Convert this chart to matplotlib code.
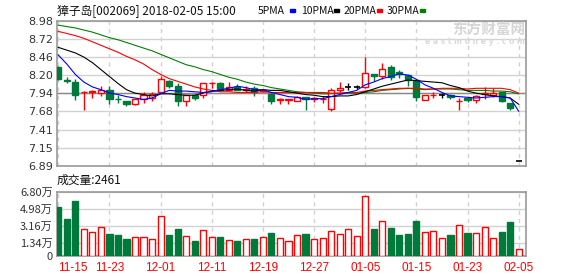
import numpy as np
import matplotlib.pyplot as plt
from matplotlib.patches import Rectangle

# daily candles, 2017-11-15 .. 2018-02-05
opens = [8.32, 8.13, 8.10, 7.95, 7.96, 7.94, 7.99, 7.86, 7.82, 7.78, 7.86, 7.87, 7.96, 8.12, 8.05,
         7.82, 7.92, 7.91, 8.08, 8.09, 7.99, 8.03, 7.98, 8.02, 7.97, 7.93, 7.84, 7.84, 7.83, 7.88,
         7.86, 7.85, 7.71, 7.98, 8.03, 8.03, 8.03, 8.21, 8.19, 8.31, 8.25, 8.20, 8.13, 7.84, 7.91,
         7.92, 7.92, 7.82, 7.87, 7.84, 7.93, 7.92, 7.96, 7.80, 6.96]
closes = [8.14, 8.12, 7.92, 7.96, 7.97, 7.99, 7.85, 7.85, 7.78, 7.86, 7.91, 7.93, 8.15, 8.04, 7.82,
          7.91, 7.87, 8.09, 8.09, 7.99, 8.03, 7.99, 8.00, 7.95, 7.99, 7.83, 7.85, 7.85, 7.89, 7.85,
          7.87, 7.86, 7.98, 8.02, 8.03, 8.03, 8.23, 8.19, 8.29, 8.18, 8.21, 8.13, 7.88, 7.92, 7.92,
          7.92, 7.88, 7.83, 7.84, 7.90, 7.94, 7.94, 7.82, 7.73, 6.96]
highs = [8.33, 8.18, 8.14, 7.97, 7.98, 8.05, 8.04, 7.91, 7.82, 7.86, 7.95, 7.96, 8.19, 8.13, 8.09,
         7.91, 7.93, 8.09, 8.10, 8.10, 8.10, 8.07, 8.04, 8.04, 8.00, 7.95, 7.87, 7.86, 7.90, 7.89,
         7.89, 7.90, 8.01, 8.10, 8.08, 8.06, 8.46, 8.21, 8.37, 8.35, 8.28, 8.21, 8.14, 7.92, 7.95,
         7.94, 7.93, 7.87, 7.88, 7.92, 8.03, 8.01, 7.96, 7.80, 6.96]
lows = [8.13, 8.08, 7.84, 7.70, 7.87, 7.90, 7.79, 7.80, 7.75, 7.77, 7.80, 7.82, 7.95, 8.01, 7.76,
        7.76, 7.84, 7.87, 8.01, 7.97, 7.97, 7.98, 7.96, 7.90, 7.96, 7.78, 7.78, 7.79, 7.82, 7.70,
        7.81, 7.80, 7.68, 7.95, 7.99, 8.00, 8.02, 8.11, 8.14, 8.13, 8.16, 8.05, 7.83, 7.84, 7.87,
        7.87, 7.86, 7.70, 7.81, 7.80, 7.86, 7.89, 7.81, 7.70, 6.96]

ma5 = [8.49, 8.36, 8.21, 8.10, 8.03, 7.99, 7.94, 7.92, 7.89, 7.87, 7.85, 7.87, 7.93, 7.98, 7.97,
       7.97, 7.96, 7.95, 7.96, 7.99, 8.01, 8.04, 8.02, 7.99, 7.99, 7.95, 7.92, 7.89, 7.88, 7.85,
       7.86, 7.86, 7.89, 7.92, 7.95, 7.98, 8.06, 8.10, 8.15, 8.18, 8.22, 8.20, 8.14, 8.06, 8.01,
       7.95, 7.90, 7.89, 7.88, 7.87, 7.88, 7.89, 7.89, 7.87, 7.68]
ma10 = [8.60, 8.56, 8.52, 8.46, 8.38, 8.28, 8.18, 8.08, 7.99, 7.94, 7.92, 7.90, 7.93, 7.93, 7.92,
        7.91, 7.91, 7.94, 7.97, 7.98, 7.99, 8.00, 7.98, 7.97, 7.99, 7.98, 7.98, 7.96, 7.94, 7.92,
        7.91, 7.89, 7.89, 7.90, 7.90, 7.92, 7.96, 8.00, 8.04, 8.07, 8.10, 8.13, 8.12, 8.11, 8.10,
        8.09, 8.05, 8.02, 7.97, 7.94, 7.92, 7.90, 7.89, 7.87, 7.78]
ma20 = [8.83, 8.80, 8.77, 8.73, 8.68, 8.63, 8.58, 8.53, 8.47, 8.42, 8.36, 8.28, 8.21, 8.15, 8.11,
        8.07, 8.03, 8.00, 7.98, 7.96, 7.96, 7.95, 7.95, 7.95, 7.96, 7.95, 7.95, 7.95, 7.95, 7.95,
        7.95, 7.95, 7.94, 7.94, 7.95, 7.95, 7.97, 7.98, 7.99, 8.00, 8.01, 8.01, 8.01, 8.00, 8.00,
        8.01, 8.01, 8.01, 8.00, 8.01, 8.01, 8.01, 8.01, 7.99, 7.94]
ma30 = [8.92, 8.90, 8.88, 8.85, 8.82, 8.78, 8.74, 8.71, 8.67, 8.63, 8.59, 8.55, 8.50, 8.45, 8.40,
        8.35, 8.32, 8.28, 8.25, 8.21, 8.17, 8.14, 8.10, 8.07, 8.05, 8.02, 8.00, 7.98, 7.96, 7.95,
        7.94, 7.93, 7.93, 7.94, 7.94, 7.94, 7.95, 7.96, 7.98, 7.99, 8.00, 8.01, 8.00, 7.99, 8.00,
        8.00, 8.00, 7.99, 7.98, 7.98, 7.98, 7.97, 7.97, 7.96, 7.93]

# volume in 万
vols = [5.23, 3.95, 5.87, 2.85, 2.56, 3.06, 2.35, 2.24, 1.82, 1.99, 1.99, 1.82, 4.27, 2.24, 2.88,
        2.10, 1.64, 2.78, 1.99, 2.03, 1.67, 1.60, 1.82, 1.82, 1.99, 2.46, 1.92, 1.60, 2.21, 2.35,
        1.78, 1.89, 2.67, 2.35, 2.85, 2.10, 6.41, 2.88, 3.70, 2.99, 2.24, 2.35, 3.74, 2.56, 2.67,
        1.92, 2.24, 3.31, 2.49, 2.46, 3.10, 1.92, 2.56, 3.63, 0.75]

date_pos = [0, 6, 12, 18, 24, 30, 36, 42, 48, 54]
date_labels = ["11-15", "11-23", "12-01", "12-11", "12-19", "12-27", "01-05", "01-15", "01-23", "02-05"]
price_ticks = [6.89, 7.15, 7.41, 7.68, 7.94, 8.20, 8.46, 8.72, 8.98]
vol_ticks = [0, 1.34, 3.16, 4.98, 6.80]
vol_labels = ["0", "1.34万", "3.16万", "4.98万", "6.80万"]
prev_close = 7.94

title = "獐子岛[002069] 2018-02-05 15:00"
vol_title = "成交量:2461"
ma_names = ["5PMA", "10PMA", "20PMA", "30PMA"]

RED = "#ff0000"
GREEN = "#007a3a"
GRID = "#d2d2d2"
FRAME = "#999999"
CJK = ["Noto Sans CJK SC", "DejaVu Sans"]

o = np.array(opens); c = np.array(closes)
x = np.arange(len(o))
up = c > o
down = c < o
flat = c == o

fig = plt.figure(figsize=(5.78, 2.76), dpi=100)
W, H = 578, 276
ax = fig.add_axes([57 / W, 1 - 166 / H, 468.5 / W, 145 / H])
vax = fig.add_axes([57 / W, 20 / H, 468.5 / W, 64 / H])

for a in (ax, vax):
    a.set_xlim(-0.15, 54.8)
    a.set_xticks(date_pos)
    a.grid(axis="x", color=GRID, lw=1, linestyle=(0, (3, 3)))
    a.grid(axis="y", color=GRID, lw=1)
    a.set_axisbelow(True)
    for s in a.spines.values():
        s.set_color(FRAME)
        s.set_linewidth(1.2)
    a.tick_params(length=0, labelsize=8, labelcolor="#333333", pad=3)

# price panel
ax.set_ylim(6.89, 8.98)
ax.set_yticks(price_ticks)
ax.set_yticklabels(["%.2f" % t for t in price_ticks])
ax.set_xticklabels([])
ax.axhline(prev_close, color="#8a8a8a", lw=1, zorder=1)

cols = np.where(up, RED, np.where(down, GREEN, "#000000"))
ax.vlines(x, lows, highs, colors=cols, lw=1, zorder=2)
nf = ~flat
ax.bar(x[nf], np.abs(c - o)[nf], bottom=np.minimum(o, c)[nf], width=0.72,
       color=np.where(up, "white", GREEN)[nf], edgecolor=cols[nf], lw=1, zorder=3)
ax.hlines(o[flat], x[flat] - 0.36, x[flat] + 0.36, colors="black", lw=1.2, zorder=3)

ax.plot(x, ma30, color="#008000", lw=0.8, zorder=4)
ax.plot(x, ma20, color="#ff0000", lw=0.8, zorder=4)
ax.plot(x, ma10, color="#000000", lw=0.8, zorder=4)
ax.plot(x, ma5, color="#0000ff", lw=0.8, zorder=4)

# volume panel
vax.set_ylim(0, 6.80)
vax.set_yticks(vol_ticks)
vax.set_yticklabels(vol_labels, family=CJK)
vax.bar(x, vols, width=0.72, color=np.where(down, GREEN, "white"),
        edgecolor=np.where(down, GREEN, RED), lw=1, zorder=3)
vax.set_xticklabels(date_labels, color=RED, family="Liberation Sans", fontsize=8.5)
vax.tick_params(axis="x", pad=4)
vax.get_xticklabels()[0].set_ha("left")

# header texts
fig.text(57 / W, 1 - 11 / H, title, family=CJK, fontsize=8.5, va="center", color="#111111")
fig.text(57 / W, 1 - 180 / H, vol_title, family=CJK, fontsize=8.5, va="center", color="#111111")
leg_x = [258, 301, 344, 387]
leg_cols = ["#0000ff", "#000000", "#ff0000", "#008000"]
for name, lx, lc in zip(ma_names, leg_x, leg_cols):
    fig.text(lx / W, 1 - 11 / H, name, family=CJK, fontsize=7.5, va="center", color="#111111")
    fig.patches.append(Rectangle(((lx + 32 if name == "5PMA" else lx + 33) / W, 1 - 12 / H),
                                 5 / W, 3 / H, color=lc, transform=fig.transFigure))

# watermark
fig.text(525 / W, 1 - 30 / H, "东方财富网", family=CJK, fontsize=10.5, fontweight="bold",
         ha="right", va="center", color="#d6d6d6", zorder=0)
fig.text(525 / W, 1 - 42 / H, "e a s t m o n e y . c o m", family="DejaVu Sans", fontsize=5.5,
         fontweight="bold", ha="right", va="center", color="#dadada", zorder=0)

fig.savefig("out.png", dpi=100)
